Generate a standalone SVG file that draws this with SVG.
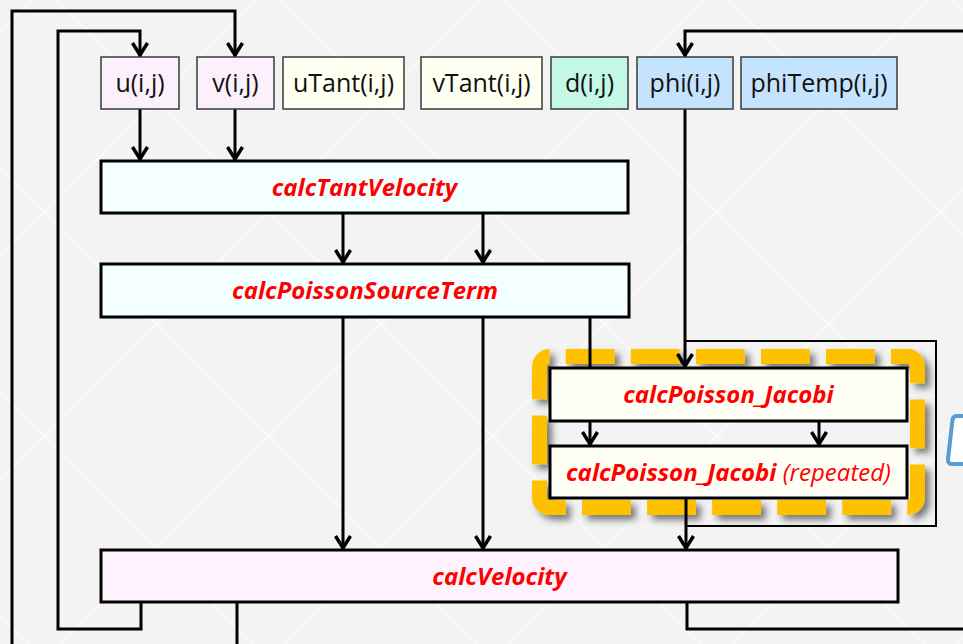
<svg xmlns="http://www.w3.org/2000/svg" width="963" height="644" viewBox="0 0 963 644">
<defs>
<style>
.var{stroke:#3a3a3a;stroke-width:1.5}
.fn{stroke:#000;stroke-width:3}
.vt{font-family:"Open Sans","Noto Sans",sans-serif;font-size:25px;fill:#111;text-anchor:middle}
.ft{font-family:"Open Sans","Noto Sans",sans-serif;font-size:24px;font-weight:bold;font-style:italic;fill:#ff0000;text-anchor:middle}
.rep{font-weight:normal}
.c{fill:none;stroke:#000;stroke-width:3}
.thin{fill:none;stroke:#000;stroke-width:2}
.arr{marker-end:url(#ah)}
.lat{stroke:#ffffff;stroke-width:2.5;opacity:0.5}
</style>
<marker id="ah" markerUnits="userSpaceOnUse" markerWidth="18" markerHeight="20" viewBox="-15 -10 18 20" refX="2" refY="0" orient="auto">
<path d="M-12,-7.5 L0,0 L-12,7.5" fill="none" stroke="#000" stroke-width="3.5"/>
</marker>
<filter id="sh" x="-10%" y="-10%" width="125%" height="130%">
<feDropShadow dx="5" dy="5" stdDeviation="3.5" flood-color="#000" flood-opacity="0.5"/>
</filter>
</defs>
<rect x="0" y="0" width="963" height="644" fill="#f3f3f3"/>
<g id="lattice">
<line class="lat" x1="0" y1="33" x2="33" y2="0"/>
<line class="lat" x1="0" y1="257" x2="257" y2="0"/>
<line class="lat" x1="0" y1="481" x2="481" y2="0"/>
<line class="lat" x1="61" y1="644" x2="705" y2="0"/>
<line class="lat" x1="285" y1="644" x2="929" y2="0"/>
<line class="lat" x1="509" y1="644" x2="1153" y2="0"/>
<line class="lat" x1="733" y1="644" x2="1377" y2="0"/>
<line class="lat" x1="957" y1="644" x2="1601" y2="0"/>
<line class="lat" x1="0" y1="167" x2="477" y2="644"/>
<line class="lat" x1="0" y1="391" x2="253" y2="644"/>
<line class="lat" x1="0" y1="615" x2="29" y2="644"/>
<line class="lat" x1="57" y1="0" x2="701" y2="644"/>
<line class="lat" x1="281" y1="0" x2="925" y2="644"/>
<line class="lat" x1="505" y1="0" x2="1149" y2="644"/>
<line class="lat" x1="729" y1="0" x2="1373" y2="644"/>
<line class="lat" x1="953" y1="0" x2="1597" y2="644"/>
</g>
<g id="jacobi-group">
<rect x="539.5" y="356.5" width="378" height="151" rx="10" fill="none" stroke="#ffc000" stroke-width="15" stroke-dasharray="48.8 16.25" stroke-dashoffset="48.8" filter="url(#sh)"/>
</g>
<g id="connectors">
<path class="c arr" d="M12,644 V11 H235 V57"/>
<path class="c arr" d="M141,602 V629 H58 V31 H140 V57"/>
<path class="c arr" d="M140,109 V161"/>
<path class="c arr" d="M235,109 V161"/>
<path class="c arr" d="M343,213 V264"/>
<path class="c arr" d="M483,213 V264"/>
<path class="c arr" d="M343,317 V550"/>
<path class="c arr" d="M483,317 V550"/>
<path class="c arr" d="M590,317 V446"/>
<path class="c arr" d="M819,421 V446"/>
<path class="c arr" d="M963,31 H685 V57"/>
<path class="c arr" d="M685,109 V368"/>
<path class="thin" d="M685,341 H936 V526 H685"/>
<path class="c arr" d="M686,498 V550"/>
<path class="c" d="M687,602 V629 H963"/>
<path class="c" d="M237,602 V644"/>
</g>
<g id="n-u"><rect class="var" x="101" y="57" width="78" height="52" fill="#fcf0fc"/><text class="vt" x="140" y="92">u(i,j)</text></g>
<g id="n-v"><rect class="var" x="197" y="57" width="77" height="52" fill="#fcf0fc"/><text class="vt" x="235.5" y="92">v(i,j)</text></g>
<g id="n-uTant"><rect class="var" x="283" y="57" width="121" height="52" fill="#fffff2"/><text class="vt" x="343.5" y="92">uTant(i,j)</text></g>
<g id="n-vTant"><rect class="var" x="421" y="57" width="121" height="52" fill="#fffff2"/><text class="vt" x="481.5" y="92">vTant(i,j)</text></g>
<g id="n-d"><rect class="var" x="551" y="57" width="77" height="52" fill="#c5f7e6"/><text class="vt" x="589.5" y="92">d(i,j)</text></g>
<g id="n-phi"><rect class="var" x="637" y="57" width="96" height="52" fill="#c6e3fd"/><text class="vt" x="685" y="92">phi(i,j)</text></g>
<g id="n-phiTemp"><rect class="var" x="741" y="57" width="156" height="52" fill="#c6e3fd"/><text class="vt" x="819" y="92">phiTemp(i,j)</text></g>
<g id="n-calcTantVelocity"><rect class="fn" x="101" y="161" width="527" height="52" fill="#f4ffff"/><text class="ft" x="364.5" y="196">calcTantVelocity</text></g>
<g id="n-calcPoissonSourceTerm"><rect class="fn" x="101" y="264" width="528" height="53" fill="#f4ffff"/><text class="ft" x="365" y="299">calcPoissonSourceTerm</text></g>
<g id="n-calcPoisson_Jacobi"><rect class="fn" x="550" y="368" width="357" height="53" fill="#fffff5"/><text class="ft" x="728.5" y="403">calcPoisson_Jacobi</text></g>
<g id="n-calcPoisson_Jacobi-repeated"><rect class="fn" x="550" y="446" width="357" height="52" fill="#fffff5"/><text class="ft" x="728.5" y="481">calcPoisson_Jacobi <tspan class="rep">(repeated)</tspan></text></g>
<g id="n-calcVelocity"><rect class="fn" x="101" y="550" width="797" height="52" fill="#fdf2fd"/><text class="ft" x="499.5" y="585">calcVelocity</text></g>
<g id="n-partial"><path d="M963,416 H957 Q953,416 952.5,420 L948,459 Q947.5,464 952,464 H963" fill="#ffffff" stroke="#5b9bd5" stroke-width="4"/></g>
</svg>
